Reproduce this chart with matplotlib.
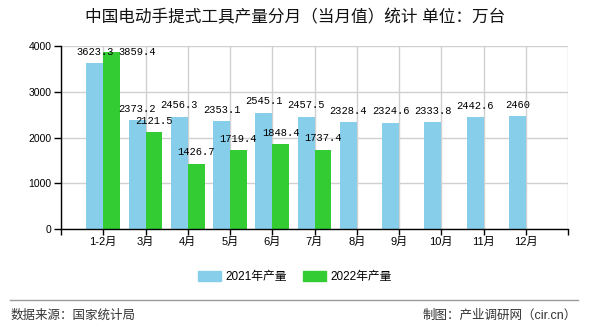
import matplotlib
matplotlib.use("Agg")
import matplotlib.pyplot as plt
from matplotlib.patches import Patch
from matplotlib.lines import Line2D

plt.rcParams['font.family'] = ['Liberation Sans', 'Noto Sans CJK SC']

months = ["1-2月", "3月", "4月", "5月", "6月", "7月", "8月", "9月", "10月", "11月", "12月"]
prod_2021 = [3623.3, 2373.2, 2456.3, 2353.1, 2545.1, 2457.5, 2328.4, 2324.6, 2333.8, 2442.6, 2460]
prod_2022 = [3859.4, 2121.5, 1426.7, 1719.4, 1848.4, 1737.4]
labels_2021 = ["3623.3", "2373.2", "2456.3", "2353.1", "2545.1", "2457.5", "2328.4", "2324.6", "2333.8", "2442.6", "2460"]
labels_2022 = ["3859.4", "2121.5", "1426.7", "1719.4", "1848.4", "1737.4"]

c21 = "#87CEEB"
c22 = "#33CC33"
W, H = 590, 330

fig = plt.figure(figsize=(W / 100, H / 100), dpi=100)
ax = fig.add_axes([61 / W, 1 - 229 / H, 507 / W, 183 / H])

bw = 0.4
x = list(range(len(months)))
x21 = [i - bw / 2 for i in x]
x22 = [i + bw / 2 for i in range(len(prod_2022))]
ax.bar(x21, prod_2021, width=bw, color=c21, zorder=3)
ax.bar(x22, prod_2022, width=bw, color=c22, zorder=3)

ax.set_xlim(-1, 11)
ax.set_ylim(0, 4000)
ax.set_xticks(range(-1, 12))
ax.set_xticklabels([""] + months + [""], fontsize=8)
ax.set_yticks([0, 1000, 2000, 3000, 4000])
ax.tick_params(axis='y', labelsize=7.5, length=5, width=1, pad=2)
ax.tick_params(axis='x', length=4, width=1, pad=2)
ax.grid(True, color="#d0d0d0", lw=1, zorder=0)
for s in ["top", "right"]:
    ax.spines[s].set_visible(False)
for s in ["left", "bottom"]:
    ax.spines[s].set_linewidth(1)
    ax.spines[s].set_zorder(4)

lab_kw = dict(textcoords="offset points", ha="center", va="bottom",
              fontsize=7.5, family="Liberation Mono", zorder=5, annotation_clip=False)
for xi, v, t in zip(x21, prod_2021, labels_2021):
    ax.annotate(t, (xi, v), xytext=(0, 4.5), **lab_kw)
for xi, v, t in zip(x22, prod_2022, labels_2022):
    if v > 3700:
        # label would run off the top: pushed beside the bar like the original
        ax.annotate(t, (xi + bw / 2 - 0.05, 3623.3), xytext=(0, 4.5),
                    **{**lab_kw, "ha": "left"})
    else:
        ax.annotate(t, (xi, v), xytext=(0, 4.5), **lab_kw)

fig.text(0.5, 1 - 17 / H, "中国电动手提式工具产量分月（当月值）统计 单位：万台",
         ha="center", va="center", fontsize=12, color="#111111")

handles = [Patch(color=c21, label="2021年产量"), Patch(color=c22, label="2022年产量")]
fig.legend(handles=handles, loc="center", bbox_to_anchor=(0.5, 1 - 277 / H), ncol=2,
           frameon=False, fontsize=8.5, handlelength=1.9, handleheight=0.85,
           columnspacing=1.4, handletextpad=0.4)

fig.add_artist(Line2D([10 / W, 578 / W], [1 - 300 / H] * 2, color="#999999", lw=1))
fig.text(11 / W, 1 - 316 / H, "数据来源：国家统计局", ha="left", va="center",
         fontsize=9, color="#333333")
fig.text(577 / W, 1 - 316 / H, "制图：产业调研网（cir.cn）", ha="right", va="center",
         fontsize=9, color="#333333")

fig.savefig("out.png", dpi=100)
